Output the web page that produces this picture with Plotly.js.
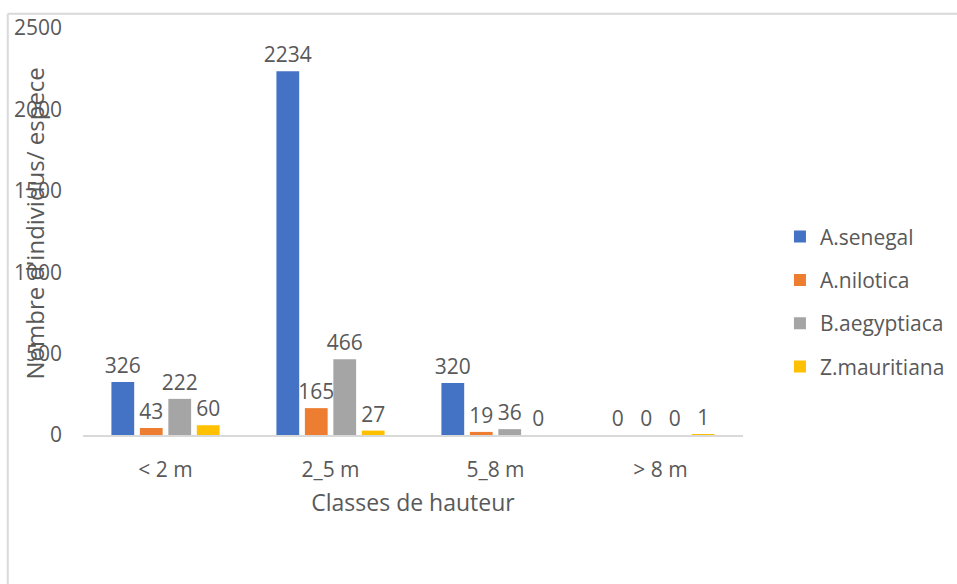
<!DOCTYPE html>
<html>
<head>
<meta charset="utf-8">
<script src="https://cdn.plot.ly/plotly-3.0.1.min.js"></script>
<style>html,body{margin:0;padding:0;background:#fff;}#chart{width:957px;height:584px;}</style>
</head>
<body>
<div id="chart"></div>
<script>
const categories = ["< 2 m", "2_5 m", "5_8 m", "> 8 m"];
const seriesNames = ["A.senegal", "A.nilotica", "B.aegyptiaca", "Z.mauritiana"];
const senegal = [326, 2234, 320, 0];
const nilotica = [43, 165, 19, 0];
const aegyptiaca = [222, 466, 36, 0];
const mauritiana = [60, 27, 0, 1];
const colors = ["#4472C4", "#ED7D31", "#A5A5A5", "#FFC000"];
const yTicks = [0, 500, 1000, 1500, 2000, 2500];

const FONT = "Open Sans, Liberation Sans, sans-serif";
const GRAY = "#595959";
const allSeries = [senegal, nilotica, aegyptiaca, mauritiana];

const traces = allSeries.map((vals, i) => ({
  type: "bar",
  name: seriesNames[i],
  x: categories,
  y: vals,
  marker: {color: colors[i]},
  text: vals.map(String),
  textposition: "outside",
  constraintext: "none",
  cliponaxis: false,
  textfont: {family: FONT, size: 21, color: GRAY},
  legendgroup: "g" + i
}));

const layout = {
  width: 957, height: 584,
  margin: {l: 83, r: 214, t: 28, b: 149},
  paper_bgcolor: "#fff", plot_bgcolor: "#fff",
  barmode: "group", bargap: 0.31, bargroupgap: 0.2,
  font: {family: FONT, color: GRAY},
  showlegend: true,
  legend: {xref: "container", yref: "container", x: 0.815, y: 0.483,
           xanchor: "left", yanchor: "middle",
           font: {family: FONT, size: 21, color: GRAY},
           tracegroupgap: 13, itemwidth: 30},
  xaxis: {
    type: "category",
    showline: true, linecolor: "#D9D9D9", linewidth: 1.5,
    showgrid: false, zeroline: false, ticks: "",
    tickfont: {family: FONT, size: 21, color: GRAY},
    ticklabelstandoff: 15,
    title: {text: "Classes de hauteur", font: {family: FONT, size: 23, color: GRAY}, standoff: 13}
  },
  yaxis: {
    range: [0, 2500], tickvals: yTicks, ticktext: yTicks.map(String),
    showgrid: false, zeroline: false, showline: false, ticks: "",
    tickfont: {family: FONT, size: 21, color: GRAY},
    ticklabelstandoff: 20
  },
  annotations: [{
    text: "Nombre d'individus/ espece", textangle: -90,
    xref: "paper", yref: "paper", x: -0.074, y: 0.52,
    xanchor: "center", yanchor: "middle", showarrow: false,
    font: {family: FONT, size: 24, color: GRAY}
  }],
  shapes: [
    {type: "line", xref: "paper", yref: "paper", x0: -0.114, x1: 1.33, y0: 1.035, y1: 1.035, line: {color: "#D9D9D9", width: 2}},
    {type: "line", xref: "paper", yref: "paper", x0: -0.114, x1: -0.114, y0: 1.035, y1: -0.4, line: {color: "#D9D9D9", width: 2}}
  ]
};

Plotly.newPlot("chart", traces, layout, {displayModeBar: false});
</script>
</body>
</html>
